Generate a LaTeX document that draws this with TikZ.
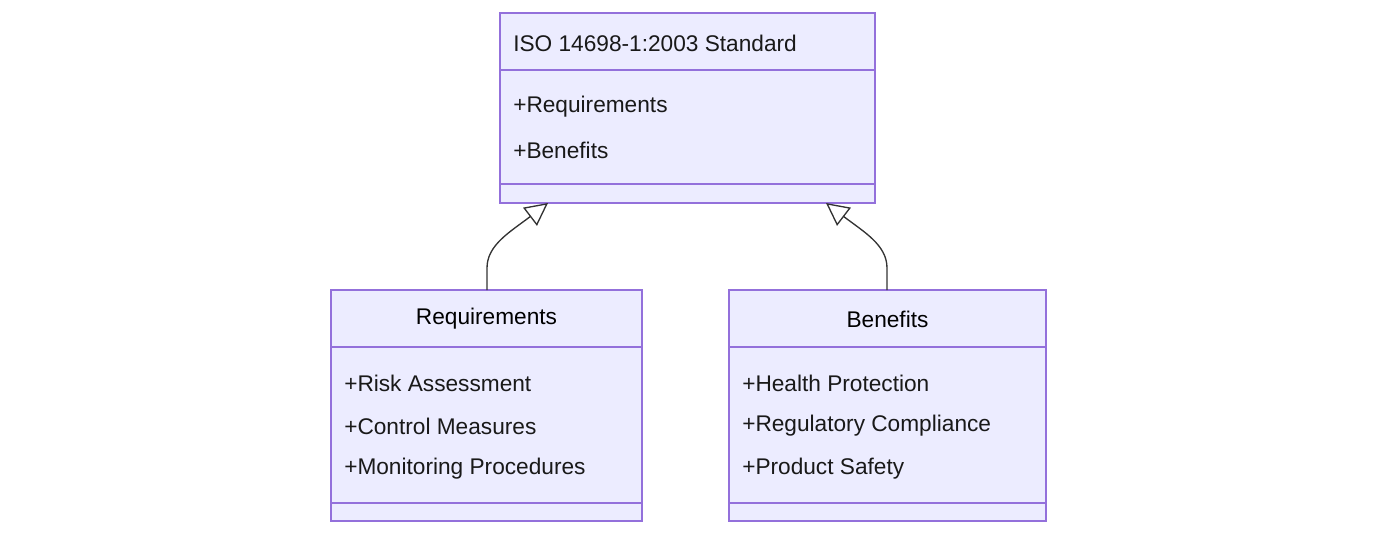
\documentclass[tikz,border=0pt]{standalone}
\usepackage{fontspec}
\setmainfont{Liberation Sans}
\usetikzlibrary{positioning,calc,arrows.meta}
\definecolor{boxfill}{HTML}{ECECFF}
\definecolor{boxline}{HTML}{9370DB}
\tikzset{font=\fontsize{17}{20}\selectfont}

\begin{document}
\begin{tikzpicture}[x=0.75pt,y=-0.75pt]
	\tikzstyle{box}=[draw=boxline, fill=boxfill, line width=1pt]
	\tikzstyle{txt}=[anchor=west, inner sep=0pt, text=black!90]
	\tikzstyle{inherit}=[draw=black!80, line width=1pt, -{Triangle[open, length=17pt, width=17pt, fill=white]}]
	\useasboundingbox (0,0) rectangle (1379,536);

	% standard
	\draw [box] (500,13) rectangle (875,203);
	\draw [boxline, line width=1pt] (500,70) -- (875,70) (500,184) -- (875,184);
	\node [txt] (iso) at (513,43) {ISO 14698-1:2003 Standard};
	\node [txt] (isoa) at (513,107) {+Requirements};
	\node [txt] (isob) at (513,150) {+Benefits};
	\coordinate (isol) at (548,203);
	\coordinate (isor) at (826,203);

	% requirements
	\draw [box] (331,290) rectangle (642,521);
	\draw [boxline, line width=1pt] (331,347) -- (642,347) (331,503) -- (642,503);
	\node [anchor=center, inner sep=0pt] (req) at (486.5,319) {Requirements};
	\node [txt] (reqa) at (344,383) {+Risk Assessment};
	\node [txt] (reqb) at (344,426) {+Control Measures};
	\node [txt] (reqc) at (344,469) {+Monitoring Procedures};
	\coordinate (reqt) at (487,290);

	% benefits
	\draw [box] (729,290) rectangle (1046,521);
	\draw [boxline, line width=1pt] (729,347) -- (1046,347) (729,503) -- (1046,503);
	\node [anchor=center, inner sep=0pt] (ben) at (887.5,319) {Benefits};
	\node [txt] (bena) at (742,383) {+Health Protection};
	\node [txt] (benb) at (742,426) {+Regulatory Compliance};
	\node [txt] (benc) at (742,469) {+Product Safety};
	\coordinate (bent) at (887,290);

	\draw [inherit] (reqt) -- (487,268) .. controls (487,245) and (510,232) .. (isol);
	\draw [inherit] (bent) -- (887,268) .. controls (887,245) and (864,232) .. (isor);
\end{tikzpicture}
\end{document}
